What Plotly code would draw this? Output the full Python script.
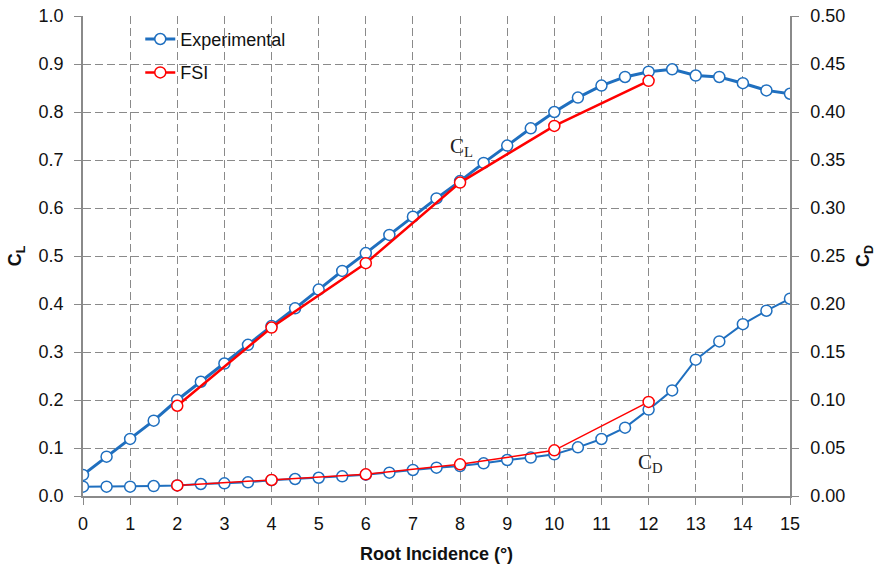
import plotly.graph_objects as go

# Root incidence (deg)
x_exp = [0, 0.5, 1, 1.5, 2, 2.5, 3, 3.5, 4, 4.5, 5, 5.5, 6, 6.5, 7, 7.5, 8, 8.5, 9, 9.5,
         10, 10.5, 11, 11.5, 12, 12.5, 13, 13.5, 14, 14.5, 15]
cl_exp = [0.044, 0.082, 0.119, 0.157, 0.200, 0.238, 0.276, 0.315, 0.354, 0.391, 0.430, 0.469,
          0.506, 0.544, 0.582, 0.620, 0.656, 0.694, 0.730, 0.766, 0.800, 0.830, 0.855, 0.873,
          0.884, 0.889, 0.876, 0.873, 0.860, 0.845, 0.838]
cd_exp = [0.0097, 0.0097, 0.0097, 0.0104, 0.0110, 0.0125, 0.0132, 0.0142, 0.0165, 0.0177,
          0.0190, 0.0205, 0.0222, 0.0243, 0.0271, 0.0295, 0.0312, 0.0340, 0.0375, 0.0400,
          0.0434, 0.0507, 0.0594, 0.0712, 0.0900, 0.1100, 0.1420, 0.1610, 0.1790, 0.1930, 0.2055]

x_fsi = [2, 4, 6, 8, 10, 12]
cl_fsi = [0.188, 0.351, 0.485, 0.653, 0.771, 0.865]
cd_fsi = [0.0110, 0.0167, 0.0226, 0.0330, 0.0476, 0.0980]

x_ticks = list(range(0, 16))
BLUE = "#1F6FBF"
RED = "#FF0000"
FONT = "Liberation Sans, Arial, sans-serif"
GRID = "#8a8a8a"

fig = go.Figure()
fig.add_trace(go.Scatter(x=x_exp, y=cl_exp, name="Experimental", mode="lines+markers",
                         legendgroup="exp",
                         line=dict(color=BLUE, width=3),
                         marker=dict(size=11, color="white", line=dict(color=BLUE, width=1.5))))
fig.add_trace(go.Scatter(x=x_fsi, y=cl_fsi, name="FSI", mode="lines+markers",
                         legendgroup="fsi",
                         line=dict(color=RED, width=2.5),
                         marker=dict(size=11, color="white", line=dict(color=RED, width=1.5))))
fig.add_trace(go.Scatter(x=x_exp, y=cd_exp, name="Experimental", mode="lines+markers",
                         yaxis="y2", showlegend=False, legendgroup="exp",
                         line=dict(color=BLUE, width=2),
                         marker=dict(size=11, color="white", line=dict(color=BLUE, width=1.5))))
fig.add_trace(go.Scatter(x=x_fsi, y=cd_fsi, name="FSI", mode="lines+markers",
                         yaxis="y2", showlegend=False, legendgroup="fsi",
                         line=dict(color=RED, width=1.5),
                         marker=dict(size=11, color="white", line=dict(color=RED, width=1.5))))

fig.add_annotation(x=8.02, y=0.727, text="C<sub>L</sub>", showarrow=False,
                   font=dict(family="Liberation Serif, Times New Roman, serif", size=21, color="#222"))
fig.add_annotation(x=12.05, y=0.069, text="C<sub>D</sub>", showarrow=False,
                   font=dict(family="Liberation Serif, Times New Roman, serif", size=21, color="#222"))

axis_common = dict(showline=True, linecolor=GRID, linewidth=1.5, ticks="outside", ticklen=7,
                   tickcolor=GRID, zeroline=False, automargin=False,
                   tickfont=dict(size=18, color="#111"))

fig.update_layout(
    width=883, height=566,
    margin=dict(l=83, r=93, t=16, b=70),
    paper_bgcolor="white", plot_bgcolor="white",
    font=dict(family=FONT, size=18, color="#111"),
    showlegend=True,
    legend=dict(x=0.081, y=0.99, xanchor="left", yanchor="top", tracegroupgap=7,
                traceorder="grouped",
                bgcolor="rgba(0,0,0,0)", font=dict(size=18)),
    xaxis=dict(range=[0, 15], tickvals=x_ticks, ticktext=[str(v) for v in x_ticks],
               showgrid=True, gridcolor=GRID, griddash="8px,4px", gridwidth=1,
               ticklabelstandoff=4,
               title=dict(text="<b>Root Incidence (°)</b>", font=dict(size=18), standoff=14),
               **axis_common),
    yaxis=dict(range=[0, 1.0], dtick=0.1, tickformat=".1f",
               showgrid=True, gridcolor=GRID, griddash="8px,4px", gridwidth=1,
               ticklabelstandoff=7,
               title=dict(text="<b>C<sub>L</sub></b>", font=dict(size=18), standoff=12),
               **axis_common),
    yaxis2=dict(range=[0, 0.5], dtick=0.05, tickformat=".2f", overlaying="y", side="right",
                showgrid=False, ticklabelstandoff=8,
                title=dict(text="<b>C<sub>D</sub></b>", font=dict(size=18), standoff=12),
                **axis_common),
)

fig.write_html("out.html")
